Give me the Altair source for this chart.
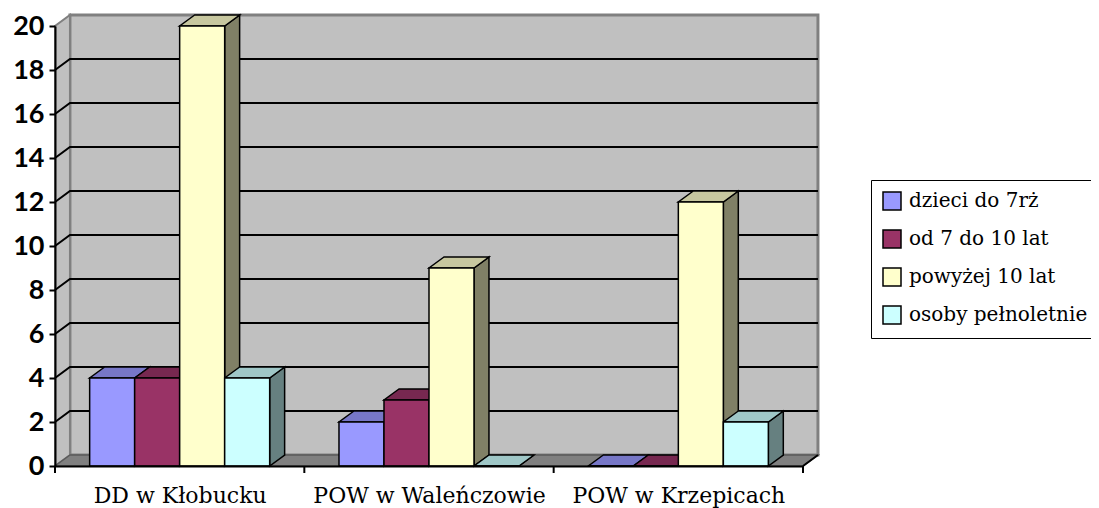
import altair as alt
import pandas as pd

# ---- data ----
categories = ["DD w Kłobucku", "POW w Waleńczowie", "POW w Krzepicach"]
series = ["dzieci do 7rż", "od 7 do 10 lat", "powyżej 10 lat", "osoby pełnoletnie"]
dzieci = [4, 2, 0]
od_7_do_10 = [4, 3, 0]
powyzej_10 = [20, 9, 12]
pelnoletnie = [4, 0, 2]
y_ticks = [0, 2, 4, 6, 8, 10, 12, 14, 16, 18, 20]

# ---- styles ----
front_colors = ["#9999FF", "#993366", "#FFFFCC", "#CCFFFF"]
top_colors = ["#7777C7", "#772850", "#C7C79F", "#9FC7C7"]
side_colors = ["#4D4D80", "#4D1A33", "#808066", "#668080"]
SERIF = "DejaVu Serif"
DX = 0.06      # 3-D depth, in x units
DY = 0.5       # 3-D depth, in y units
BAR_W = 0.1805 # bar width, in x units

values = [dzieci, od_7_do_10, powyzej_10, pelnoletnie]
n_cat = len(categories)
y_max = max(y_ticks)

xs = alt.Scale(domain=[0, n_cat], nice=False, zero=False)
ys = alt.Scale(domain=[0, y_max], nice=False, zero=False)

front_rows, top_rows, side_rows = [], [], []
for i, cat in enumerate(categories):
    for j, s in enumerate(series):
        v = values[j][i]
        x0 = i + 0.5 + (j - 2) * BAR_W
        x1 = x0 + BAR_W
        bid = f"{i}-{j}"
        front_rows.append({"series": s, "x0": x0, "x1": x1, "v": v})
        top_rows.append({"bar": bid, "y": v, "xa": x0, "xb": x1, "fill": top_colors[j]})
        top_rows.append({"bar": bid, "y": v + DY, "xa": x0 + DX, "xb": x1 + DX, "fill": top_colors[j]})
        side_rows.append({"bar": bid, "x": x1, "ya": v, "yb": 0, "fill": side_colors[j]})
        side_rows.append({"bar": bid, "x": x1 + DX, "ya": v + DY, "yb": DY, "fill": side_colors[j]})

front_df = pd.DataFrame(front_rows)
top_df = pd.DataFrame(top_rows)
side_df = pd.DataFrame(side_rows)

wall_df = pd.DataFrame([{"x": DX, "x2": n_cat + DX, "y": DY, "y2": y_max + DY}])
left_df = pd.DataFrame([{"x": 0, "y": 0, "y2": y_max}, {"x": DX, "y": DY, "y2": y_max + DY}])
floor_df = pd.DataFrame([{"y": 0, "x": 0, "x2": n_cat}, {"y": DY, "x": DX, "x2": n_cat + DX}])
floor_edge_df = pd.DataFrame([{"x": n_cat, "y": 0}, {"x": n_cat + DX, "y": DY}])
grid_rows = []
for v in y_ticks[1:-1]:
    grid_rows += [{"g": v, "o": 0, "x": 0, "y": v},
                  {"g": v, "o": 1, "x": DX, "y": v + DY},
                  {"g": v, "o": 2, "x": n_cat + DX, "y": v + DY}]
grid_df = pd.DataFrame(grid_rows)
tick_df = pd.DataFrame({"b": list(range(n_cat + 1))})

label_expr = " : ".join(
    [f"datum.value < {i + 1} ? '{c}'" for i, c in enumerate(categories[:-1])]
) + f" : '{categories[-1]}'"

x_axis = alt.Axis(values=[i + 0.5 for i in range(n_cat)], labelExpr=label_expr, ticks=False,
                  labelFont=SERIF, labelFontSize=22, labelColor="black", labelLimit=400,
                  domainColor="black", domainWidth=2, labelPadding=19, grid=False,
                  title=None, zindex=1, labelOverlap=False, labelFlush=False, labelBound=False)
y_axis = alt.Axis(values=y_ticks, labelFont="Lato", labelFontWeight="bold", labelFontSize=27,
                  labelColor="black", domainColor="black", domainWidth=2, tickColor="black",
                  tickWidth=2, tickSize=6, labelPadding=5, grid=False, title=None, zindex=1)


def X(field):
    return alt.X(field, scale=xs, axis=x_axis, title=None)


def Y(field):
    return alt.Y(field, scale=ys, axis=y_axis, title=None)


wall = alt.Chart(wall_df).mark_rect(fill="#C0C0C0", stroke="#808080", strokeWidth=3).encode(
    x=X("x:Q"), x2="x2", y=Y("y:Q"), y2="y2")

left_wall = alt.Chart(left_df).mark_area(orient="vertical", fill="#C0C0C0", stroke="#808080",
                                          strokeWidth=2).encode(
    x=X("x:Q"), y=Y("y:Q"), y2="y2")

floor = alt.Chart(floor_df).mark_area(orient="horizontal", fill="#808080", stroke="#5a5a5a",
                                       strokeWidth=1.5).encode(
    y=Y("y:Q"), x=X("x:Q"), x2="x2")

floor_edge = alt.Chart(floor_edge_df).mark_line(color="black", strokeWidth=2).encode(
    x=X("x:Q"), y=Y("y:Q"))

grid = alt.Chart(grid_df).mark_line(color="black", strokeWidth=2).encode(
    x=X("x:Q"), y=Y("y:Q"), detail="g:N", order="o:Q")

sides = alt.Chart(side_df).mark_area(orient="vertical", stroke="black", strokeWidth=1.5).encode(
    x=X("x:Q"), y=Y("ya:Q"), y2="yb",
    fill=alt.Fill("fill:N", scale=None), detail="bar:N")

tops = alt.Chart(top_df).mark_area(orient="horizontal", stroke="black", strokeWidth=1.5).encode(
    y=Y("y:Q"), x=X("xa:Q"), x2="xb",
    fill=alt.Fill("fill:N", scale=None), detail="bar:N")

fronts = alt.Chart(front_df).mark_rect(stroke="black", strokeWidth=1.5).encode(
    x=X("x0:Q"), x2="x1", y=Y("v:Q"), y2=alt.datum(0),
    color=alt.Color("series:N", scale=alt.Scale(domain=series, range=front_colors),
                    legend=alt.Legend(title=None, orient="none", legendX=816, legendY=154,
                                      symbolType="square", symbolSize=324,
                                      symbolStrokeColor="black", symbolStrokeWidth=1.5,
                                      labelFont=SERIF, labelFontSize=20,
                                      labelColor="black", strokeColor="black", fillColor="white",
                                      padding=11, rowPadding=14, labelOffset=7, labelLimit=400)))

xticks = alt.Chart(tick_df).mark_rule(color="black", strokeWidth=2).encode(
    x=X("b:Q"), y=alt.value(440), y2=alt.value(447))

chart = alt.layer(wall, left_wall, floor, floor_edge, grid, sides, tops, fronts, xticks).properties(
    width=748, height=440,
    padding={"left": 47, "top": 18, "right": 288, "bottom": 42},
    autosize=alt.AutoSizeParams(type="none"),
    background="white",
).configure_view(stroke=None)

chart.save("out.html", embed_options={"renderer": "svg", "actions": False})
